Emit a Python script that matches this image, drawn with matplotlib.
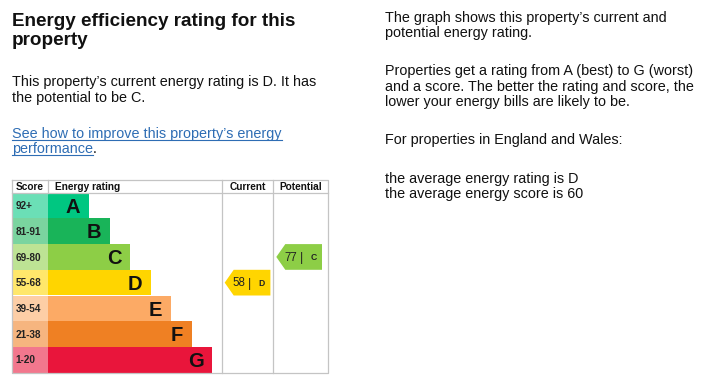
import matplotlib
matplotlib.use('Agg')
import matplotlib.pyplot as plt
from matplotlib.patches import Polygon, Rectangle
from matplotlib.colors import to_rgb

plt.rcParams['font.family'] = ['Liberation Sans', 'DejaVu Sans']

# EPC bands, best to worst
bands       = ['A', 'B', 'C', 'D', 'E', 'F', 'G']
band_scores = ['92+', '81-91', '69-80', '55-68', '39-54', '21-38', '1-20']
band_lower  = [92, 81, 69, 55, 39, 21, 1]
band_colors = ['#00c781', '#19b459', '#8dce46', '#ffd500', '#fcaa65', '#ef8023', '#e9153b']

current_score   = 58
potential_score = 77

title_lines = ["Energy efficiency rating for this", "property"]
intro_lines = ["This property\u2019s current energy rating is D. It has",
               "the potential to be C."]
link_lines  = ["See how to improve this property\u2019s energy", "performance"]
side_lines  = ["The graph shows this property\u2019s current and",
               "potential energy rating.",
               None,
               "Properties get a rating from A (best) to G (worst)",
               "and a score. The better the rating and score, the",
               "lower your energy bills are likely to be.",
               None,
               "For properties in England and Wales:",
               None,
               "the average energy rating is D",
               "the average energy score is 60"]


def band_for(score):
    for i, lo in enumerate(band_lower):
        if score >= lo:
            return i
    return len(bands) - 1


def tint(c, amt=0.42):
    r, g, b = to_rgb(c)
    return (r + (1 - r) * amt, g + (1 - g) * amt, b + (1 - b) * amt)


W, H = 713, 385
fig = plt.figure(figsize=(W / 100, H / 100), dpi=100)
ax = fig.add_axes([0, 0, 1, 1])
ax.set_xlim(0, W)
ax.set_ylim(H, 0)
ax.axis('off')

body = 10.35
ink = '#111111'

# ---- left text block
ax.text(12, 26, title_lines[0], fontsize=13.6, fontweight='bold', va='baseline', color=ink)
ax.text(12, 45, title_lines[1], fontsize=13.6, fontweight='bold', va='baseline', color=ink)
ax.text(12, 86, intro_lines[0], fontsize=body, va='baseline', color=ink)
ax.text(12, 101.7, intro_lines[1], fontsize=body, va='baseline', color=ink)

link_color = '#2e6db4'
l1 = ax.text(12, 138, link_lines[0], fontsize=body, va='baseline', color=link_color)
l2 = ax.text(12, 153, link_lines[1], fontsize=body, va='baseline', color=link_color)

# ---- right text block
y = 21.7
for line in side_lines:
    if line is None:
        y += 22.8
        continue
    ax.text(385, y, line, fontsize=body, va='baseline', color=ink)
    y += 15.4

# ---- chart table
x0, x_score, x_cur, x_pot, x1 = 12, 48.3, 221.7, 273.3, 328
y_top, y_head = 180, 192.7
row_h = 25.7
bar_start = x_score
bar_end0, bar_step = 89, 20.5
grid = '#c4c4c4'

for i, (b, s, c) in enumerate(zip(bands, band_scores, band_colors)):
    yt = y_head + i * row_h
    ax.add_patch(Rectangle((x0, yt), x_score - x0, row_h, facecolor=tint(c), edgecolor='none'))
    end = bar_end0 + i * bar_step
    ax.add_patch(Rectangle((bar_start, yt), end - bar_start, row_h, facecolor=c, edgecolor='none'))
    yc = yt + row_h / 2
    ax.text(15.5, yc + 3.6, s, fontsize=7.2, fontweight='bold', va='baseline', color='#222222')
    ax.text(end - 8.5, yc + 7.2, b, fontsize=14.5, fontweight='bold', ha='right', va='baseline',
            color=ink)

y_bot = y_head + len(bands) * row_h

# grid lines
lw = 0.9
ax.plot([x0, x1, x1, x0, x0], [y_top, y_top, y_bot, y_bot, y_top], color=grid, lw=lw)
ax.plot([x0, x1], [y_head, y_head], color=grid, lw=lw)
ax.plot([x_score, x_score], [y_top, y_head], color=grid, lw=lw)
ax.plot([x_cur, x_cur], [y_top, y_bot], color=grid, lw=lw)
ax.plot([x_pot, x_pot], [y_top, y_bot], color=grid, lw=lw)

# header
hy = 190
hs = 7.3
ax.text(15.5, hy, "Score", fontsize=hs, fontweight='bold', va='baseline', color=ink)
ax.text(55, hy, "Energy rating", fontsize=hs, fontweight='bold', va='baseline', color=ink)
ax.text((x_cur + x_pot) / 2, hy, "Current", fontsize=hs, fontweight='bold', ha='center', va='baseline',
        color=ink)
ax.text((x_pot + x1) / 2, hy, "Potential", fontsize=hs, fontweight='bold', ha='center', va='baseline',
        color=ink)


def arrow(col_left, score):
    i = band_for(score)
    yt = y_head + i * row_h
    yb = yt + row_h
    yc = (yt + yb) / 2
    left = col_left + 3
    right = left + 45.7
    tip = 9
    ax.add_patch(Polygon([(left, yc), (left + tip, yt), (right, yt), (right, yb), (left + tip, yb)],
                         closed=True, facecolor=band_colors[i], edgecolor='none'))
    ax.text(left + 14.5, yc + 3.6, str(score), fontsize=8.3, ha='center', va='baseline', color='#222222')
    ax.text(left + 25, yc + 4.2, "|", fontsize=9, ha='center', va='baseline', color='#222222')
    ax.text(left + 37, yc + 2.9, bands[i], fontsize=6.2, fontweight='bold', ha='center', va='baseline',
            color='#222222')


arrow(x_cur, current_score)
arrow(x_pot, potential_score)

# underline the link and add the trailing full stop
fig.canvas.draw()
inv = ax.transData.inverted()
for t, yb in ((l1, 138), (l2, 153)):
    bb = t.get_window_extent()
    (xa, _), (xb, _) = inv.transform([(bb.x0, bb.y0), (bb.x1, bb.y0)])
    ax.plot([xa, xb], [yb + 2.3, yb + 2.3], color=link_color, lw=0.8)
bb = l2.get_window_extent()
xe = inv.transform([(bb.x1, bb.y0)])[0][0]
ax.text(xe, 153, ".", fontsize=body, va='baseline', color=ink)

fig.savefig("out.png", dpi=100)
